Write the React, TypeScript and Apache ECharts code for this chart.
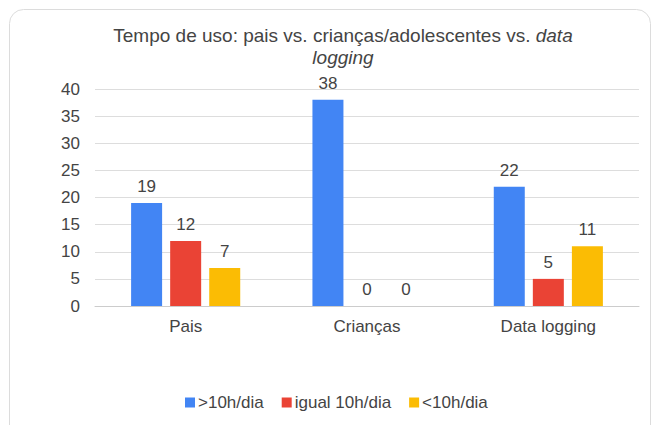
import React, { useEffect, useRef } from "react";
import * as echarts from "echarts";

const categories = ["Pais", "Crianças", "Data logging"];
const seriesNames = [">10h/dia", "igual 10h/dia", "<10h/dia"];
const maisDe10 = [19, 38, 22];
const igual10 = [12, 0, 5];
const menosDe10 = [7, 0, 11];
const colors = ["#4285F4", "#EA4335", "#FBBC04"];

export default function App() {
  const ref = useRef<HTMLDivElement>(null);
  useEffect(() => {
    if (!ref.current) return;
    const chart = echarts.init(ref.current, undefined, { renderer: "svg" });
    const font = "Liberation Sans, Arial, sans-serif";
    const values = [maisDe10, igual10, menosDe10];
    chart.setOption({
      animation: false,
      textStyle: { fontFamily: font },
      graphic: [
        {
          type: "rect",
          shape: { x: 9.5, y: 9.5, width: 641, height: 430, r: 14 },
          style: { fill: "#fff", stroke: "#dcdcdc", lineWidth: 1 },
          z: -10,
        },
      ],
      title: {
        text: "Tempo de uso: pais vs. crianças/adolescentes vs. {i|data}\n{i|logging}",
        left: 338,
        textAlign: "center",
        top: 19,
        textStyle: {
          fontFamily: font,
          fontSize: 19,
          fontWeight: "normal",
          color: "#444",
          lineHeight: 22,
          rich: {
            i: { fontStyle: "italic", fontSize: 19, color: "#444", fontFamily: font, lineHeight: 22 },
          },
        },
      },
      legend: {
        data: seriesNames,
        bottom: 9,
        left: 180,
        itemWidth: 10,
        itemHeight: 10,
        itemGap: 18,
        icon: "rect",
        textStyle: { fontFamily: font, fontSize: 17, color: "#444", padding: [0, 0, 0, -2] },
      },
      grid: { left: 95, right: 18, top: 89, bottom: 119 },
      xAxis: {
        type: "category",
        data: categories,
        axisLine: { show: true, lineStyle: { color: "#ccc" } },
        axisTick: { show: false },
        axisLabel: { fontFamily: font, fontSize: 17, color: "#444", margin: 12 },
      },
      yAxis: {
        type: "value",
        min: 0,
        max: 40,
        interval: 5,
        axisLine: { show: false },
        axisTick: { show: false },
        splitLine: { lineStyle: { color: "#ddd" } },
        axisLabel: { fontFamily: font, fontSize: 17, color: "#444", margin: 15 },
      },
      series: seriesNames.map((name, i) => ({
        name,
        type: "bar",
        data: values[i],
        barWidth: 31,
        barGap: "26%",
        itemStyle: { color: colors[i] },
        label: {
          show: true,
          position: "top",
          distance: 8,
          fontFamily: font,
          fontSize: 17,
          color: "#444",
        },
      })),
    });
    return () => chart.dispose();
  }, []);
  return (
    <div
      ref={ref}
      style={{ position: "fixed", left: 0, top: 0, width: 657, height: 425, background: "#fff" }}
    />
  );
}
